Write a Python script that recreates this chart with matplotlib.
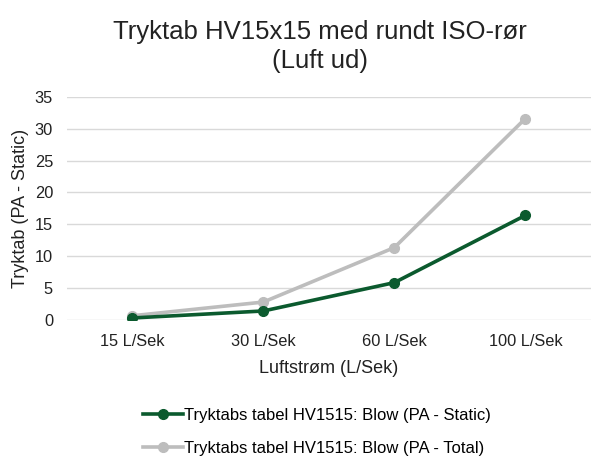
import matplotlib.pyplot as plt

plt.rcParams['font.family'] = ['Liberation Sans', 'DejaVu Sans']

categories = ["15 L/Sek", "30 L/Sek", "60 L/Sek", "100 L/Sek"]
static = [0.3, 1.4, 5.85, 16.4]
total = [0.65, 2.8, 11.35, 31.6]
yticks = [0, 5, 10, 15, 20, 25, 30, 35]

fig = plt.figure(figsize=(5.92, 4.57), dpi=100)
ax = fig.add_axes([0.113, 0.300, 0.885, 0.488])

x = range(len(categories))
ax.plot(x, static, color='#0b5a2e', lw=2.6, marker='o', ms=7,
        label="Tryktabs tabel HV1515: Blow (PA - Static)", zorder=3)
ax.plot(x, total, color='#bdbdbd', lw=2.6, marker='o', ms=7,
        label="Tryktabs tabel HV1515: Blow (PA - Total)", zorder=2)

ax.set_xlim(-0.5, 3.5)
ax.set_ylim(0, 35)
ax.set_yticks(yticks)
ax.set_xticks(list(x))
ax.set_xticklabels(categories)
ax.grid(axis='y', color='#d9d9d9', lw=1)
ax.set_axisbelow(True)
for s in ax.spines.values():
    s.set_visible(False)
ax.tick_params(length=0, labelsize=11.8, colors='#222222')
ax.tick_params(axis='y', pad=10)
ax.tick_params(axis='x', pad=10)

ax.set_xlabel("Luftstrøm (L/Sek)", fontsize=13, color='#222222', labelpad=8)
ax.set_ylabel("Tryktab (PA - Static)", fontsize=13, color='#222222', labelpad=4)

fig.text(0.54, 0.898, "Tryktab HV15x15 med rundt ISO-rør\n(Luft ud)",
         ha='center', va='center', fontsize=18.5, color='#222222', linespacing=1.25)

fig.legend(loc='center', bbox_to_anchor=(0.535, 0.055), frameon=False, ncol=1,
           fontsize=12, handlelength=2.4, handletextpad=0.05, labelspacing=1.05)

fig.savefig("out.png", dpi=100)
